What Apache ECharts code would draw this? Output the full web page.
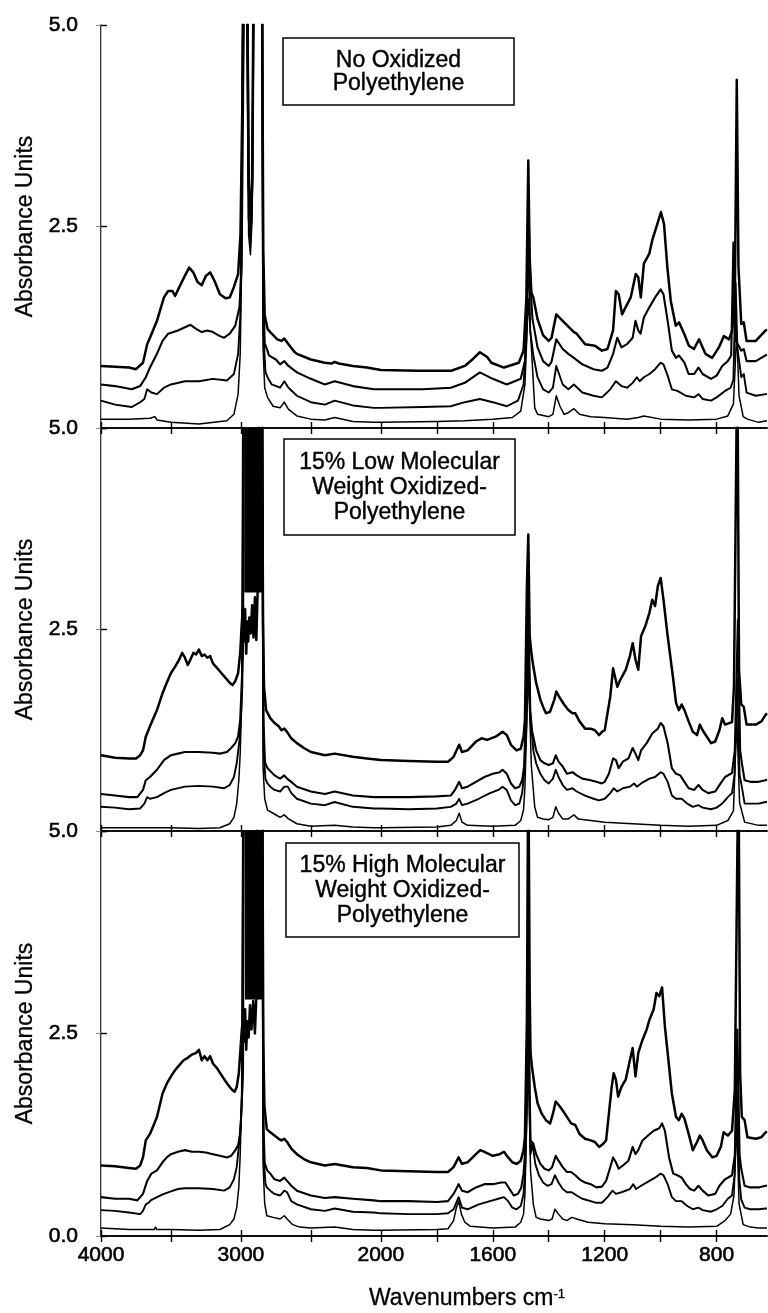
<!DOCTYPE html>
<html>
<head>
<meta charset="utf-8">
<script src="https://cdn.jsdelivr.net/npm/echarts/dist/echarts.min.js"></script>
<style>
html, body { margin: 0; padding: 0; background: #fff; }
#container { width: 768px; height: 1313px; }
</style>
</head>
<body>
<div id="container"></div>
<script>
var dom = document.getElementById("container");
var chart = echarts.init(dom);

// x axis: wavenumbers, expanded 2x below 2000 cm-1
const tickWavenumbers = [4000, 3500, 3000, 2500, 2000, 1800, 1600, 1400, 1200, 1000, 800];
const labelWavenumbers = [4000, 3000, 2000, 1600, 1200, 800];
const xStart = 4000;
const xBreak = 2000;
const xEnd = 620;

const panelTitles = [
    "No Oxidized\nPolyethylene",
    "15% Low Molecular\nWeight Oxidized-\nPolyethylene",
    "15% High Molecular\nWeight Oxidized-\nPolyethylene",
];

// saturated C-H band [from, to, lower absorbance]
const lowSat = [2976, 2847, 2.96];
const highSat = [2971, 2840, 2.92];

// ---- No oxidized polyethylene ----
const noOxA = [[4000,0.77],[3900,0.76],[3800,0.75],[3750,0.73],[3700,0.81],[3670,1.04],[3650,1.12],[3600,1.33],[3550,1.62],[3520,1.70],[3490,1.70],[3470,1.64],[3440,1.75],[3400,1.89],[3370,1.99],[3340,1.93],[3310,1.81],[3280,1.77],[3250,1.89],[3220,1.93],[3190,1.83],[3150,1.66],[3110,1.61],[3080,1.62],[3050,1.75],[3020,1.91],[3003,2.41],[2990,4.0],[2978,6],[2958,6],[2945,3.0],[2932,2.7],[2920,3.1],[2908,6],[2850,6],[2840,2.2],[2830,1.4],[2810,1.23],[2780,1.17],[2740,1.10],[2710,1.08],[2690,1.11],[2660,1.04],[2620,0.95],[2600,0.92],[2500,0.85],[2400,0.81],[2350,0.80],[2330,0.82],[2300,0.80],[2200,0.77],[2100,0.75],[2000,0.72],
    [1867,0.71],[1748,0.71],[1700,0.77],[1670,0.86],[1646,0.94],[1620,0.88],[1605,0.81],[1560,0.75],[1507,0.81],[1490,0.96],[1480,1.6],[1473,3.32],[1468,2.1],[1462,1.68],[1455,1.62],[1440,1.35],[1420,1.15],[1400,1.08],[1390,1.12],[1373,1.41],[1345,1.31],[1310,1.19],[1300,1.17],[1270,1.04],[1235,1.02],[1210,0.96],[1190,0.98],[1170,1.21],[1160,1.70],[1150,1.66],[1138,1.41],[1125,1.50],[1107,1.62],[1089,1.91],[1080,1.87],[1071,1.62],[1060,2.04],[1041,2.16],[1030,2.33],[1012,2.53],[999,2.68],[988,2.53],[976,1.99],[964,1.58],[946,1.27],[934,1.31],[916,1.17],[899,1.02],[881,0.98],[863,1.10],[840,0.92],[816,0.87],[792,1.0],[774,1.14],[756,1.10],[745,1.2],[735,1.6],[728,4.32],[722,2.0],[712,1.29],[703,1.31],[693,1.08],[660,1.08],[625,1.21],[620,1.22]];
const noOxB = [[4000,0.54],[3900,0.52],[3780,0.48],[3720,0.52],[3680,0.63],[3650,0.75],[3600,0.92],[3560,1.08],[3520,1.17],[3450,1.21],[3400,1.25],[3360,1.28],[3320,1.23],[3280,1.19],[3240,1.21],[3200,1.19],[3150,1.14],[3120,1.12],[3080,1.17],[3040,1.27],[3010,1.50],[2995,2.0],[2985,4],[2975,6],[2955,6],[2942,2.9],[2930,2.5],[2918,3.0],[2905,6],[2850,6],[2842,1.8],[2830,1.05],[2810,0.96],[2800,0.90],[2750,0.85],[2720,0.79],[2690,0.83],[2660,0.77],[2600,0.69],[2500,0.61],[2400,0.54],[2330,0.58],[2200,0.52],[2050,0.48],[2000,0.48],
    [1850,0.48],[1750,0.50],[1700,0.56],[1646,0.69],[1600,0.61],[1550,0.54],[1500,0.61],[1485,0.83],[1478,1.5],[1473,2.82],[1466,1.8],[1458,1.35],[1440,1.0],[1420,0.83],[1400,0.77],[1390,0.82],[1373,1.10],[1350,0.98],[1330,0.92],[1310,0.87],[1280,0.79],[1240,0.73],[1210,0.71],[1190,0.75],[1170,0.92],[1155,1.12],[1140,1.0],[1120,1.04],[1100,1.12],[1090,1.33],[1080,1.21],[1072,1.17],[1060,1.37],[1040,1.50],[1020,1.62],[1000,1.72],[990,1.66],[975,1.33],[960,0.96],[945,0.87],[935,0.90],[915,0.81],[900,0.67],[880,0.67],[865,0.75],[850,0.67],[820,0.61],[800,0.65],[780,0.77],[760,0.83],[748,0.9],[740,2.3],[734,1.1],[712,0.96],[703,0.98],[693,0.83],[660,0.83],[625,0.90],[620,0.91]];
const noOxC = [[4000,0.34],[3900,0.29],[3780,0.26],[3720,0.32],[3690,0.36],[3670,0.48],[3640,0.44],[3600,0.42],[3550,0.50],[3500,0.54],[3400,0.58],[3300,0.58],[3200,0.61],[3100,0.59],[3050,0.67],[3020,0.92],[3005,1.37],[2995,2.6],[2985,6],[2958,6],[2945,2.6],[2932,2.3],[2920,2.8],[2908,6],[2848,6],[2840,1.2],[2825,0.7],[2810,0.63],[2780,0.54],[2720,0.50],[2690,0.58],[2660,0.50],[2600,0.40],[2500,0.32],[2400,0.29],[2330,0.34],[2200,0.28],[2050,0.25],[2000,0.25],
    [1850,0.26],[1750,0.27],[1700,0.32],[1646,0.36],[1600,0.32],[1550,0.27],[1510,0.34],[1490,0.54],[1480,1.1],[1473,2.33],[1466,1.2],[1455,0.9],[1440,0.63],[1420,0.48],[1400,0.44],[1385,0.5],[1373,0.77],[1350,0.54],[1330,0.48],[1310,0.54],[1280,0.44],[1240,0.40],[1210,0.38],[1180,0.48],[1160,0.58],[1140,0.52],[1120,0.50],[1100,0.56],[1085,0.63],[1075,0.58],[1060,0.63],[1040,0.67],[1020,0.73],[1000,0.81],[990,0.79],[975,0.65],[960,0.48],[940,0.46],[910,0.40],[880,0.38],[865,0.42],[850,0.36],[820,0.34],[800,0.38],[770,0.46],[750,0.50],[740,0.6],[732,1.8],[726,1.0],[712,0.63],[703,0.67],[693,0.44],[660,0.40],[625,0.42],[620,0.42]];
const noOxD = [[4000,0.11],[3800,0.11],[3650,0.12],[3615,0.14],[3600,0.10],[3500,0.07],[3300,0.05],[3100,0.09],[3050,0.17],[3020,0.42],[3005,0.92],[2995,2.0],[2985,6],[2960,6],[2945,2.4],[2932,2.15],[2920,2.6],[2908,6],[2852,6],[2842,1.0],[2830,0.5],[2810,0.38],[2770,0.27],[2720,0.25],[2690,0.32],[2660,0.23],[2600,0.15],[2500,0.11],[2400,0.10],[2330,0.13],[2200,0.08],[2050,0.07],[2000,0.07],
    [1800,0.08],[1700,0.09],[1600,0.11],[1530,0.13],[1500,0.21],[1485,0.54],[1473,1.6],[1462,1.0],[1450,0.25],[1440,0.17],[1400,0.14],[1385,0.17],[1373,0.40],[1360,0.27],[1345,0.17],[1330,0.19],[1310,0.24],[1290,0.17],[1250,0.14],[1200,0.13],[1120,0.11],[1080,0.13],[1060,0.15],[1000,0.11],[900,0.10],[800,0.11],[760,0.15],[740,0.3],[728,1.2],[720,0.4],[705,0.14],[690,0.11],[650,0.07],[620,0.09]];

// ---- 15% low molecular weight oxidized PE ----
const lowA = [[4000,0.94],[3900,0.91],[3800,0.90],[3750,0.90],[3720,0.94],[3700,1.0],[3680,1.17],[3650,1.30],[3600,1.50],[3560,1.71],[3530,1.84],[3500,1.96],[3470,2.04],[3440,2.13],[3420,2.21],[3400,2.15],[3380,2.06],[3360,2.13],[3340,2.21],[3320,2.19],[3300,2.25],[3280,2.17],[3260,2.19],[3240,2.15],[3220,2.17],[3200,2.08],[3170,2.02],[3140,1.96],[3110,1.90],[3080,1.84],[3060,1.81],[3040,1.86],[3020,1.96],[3005,2.21],[2995,2.54],[2985,2.79],[2978,2.35],[2970,2.75],[2962,2.2],[2955,2.6],[2948,2.35],[2940,2.65],[2930,2.45],[2920,2.8],[2910,2.4],[2900,2.9],[2890,2.37],[2880,3.0],[2870,6],[2850,6],[2842,2.6],[2835,1.79],[2820,1.5],[2790,1.40],[2760,1.34],[2730,1.30],[2710,1.25],[2690,1.27],[2670,1.23],[2640,1.15],[2600,1.09],[2550,1.03],[2500,0.98],[2400,0.94],[2330,0.96],[2200,0.92],[2100,0.90],[2000,0.88],
    [1900,0.87],[1800,0.86],[1760,0.86],[1740,0.92],[1720,1.07],[1710,0.98],[1690,1.0],[1660,1.11],[1640,1.15],[1620,1.13],[1590,1.17],[1565,1.23],[1550,1.19],[1535,1.07],[1515,1.0],[1500,1.02],[1490,1.17],[1485,1.38],[1478,3.04],[1473,3.68],[1468,2.42],[1462,2.21],[1455,2.04],[1445,1.84],[1430,1.63],[1420,1.54],[1410,1.46],[1395,1.48],[1380,1.63],[1373,1.73],[1360,1.65],[1345,1.57],[1330,1.50],[1315,1.46],[1305,1.46],[1290,1.36],[1270,1.27],[1250,1.27],[1235,1.25],[1220,1.19],[1210,1.23],[1200,1.25],[1180,1.67],[1170,2.02],[1163,2.04],[1155,1.79],[1145,1.87],[1125,2.0],[1110,2.17],[1100,2.33],[1090,2.13],[1080,2.0],[1070,2.42],[1055,2.54],[1040,2.71],[1030,2.87],[1020,2.79],[1010,3.04],[1000,3.14],[990,2.87],[975,2.42],[955,1.88],[945,1.59],[935,1.50],[925,1.57],[915,1.50],[900,1.36],[885,1.23],[870,1.19],[860,1.32],[850,1.25],[835,1.17],[820,1.09],[805,1.11],[790,1.25],[780,1.40],[770,1.32],[745,1.35],[738,1.8],[726,6],[720,2.0],[712,1.57],[703,1.54],[693,1.32],[660,1.32],[640,1.36],[625,1.44],[620,1.46]];
const lowB = [[4000,0.46],[3900,0.44],[3800,0.42],[3740,0.42],[3700,0.51],[3680,0.63],[3650,0.67],[3600,0.76],[3550,0.88],[3500,0.94],[3450,0.96],[3400,0.98],[3300,0.98],[3200,0.97],[3150,0.96],[3100,0.98],[3070,1.03],[3040,1.09],[3020,1.17],[3005,1.38],[2995,1.79],[2985,2.21],[2978,6],[2850,6],[2840,1.4],[2828,0.85],[2810,0.78],[2800,0.76],[2760,0.69],[2720,0.65],[2690,0.69],[2670,0.65],[2640,0.61],[2600,0.55],[2500,0.49],[2400,0.46],[2330,0.49],[2200,0.44],[2050,0.42],[2000,0.42],
    [1900,0.42],[1800,0.43],[1750,0.44],[1735,0.51],[1720,0.61],[1710,0.53],[1690,0.55],[1660,0.61],[1630,0.67],[1600,0.71],[1575,0.73],[1565,0.76],[1550,0.71],[1535,0.59],[1520,0.53],[1505,0.55],[1495,0.63],[1488,0.80],[1480,1.6],[1473,2.9],[1466,1.5],[1460,1.25],[1455,1.17],[1445,1.0],[1430,0.88],[1415,0.84],[1400,0.82],[1385,0.84],[1375,0.94],[1365,0.86],[1350,0.80],[1335,0.71],[1315,0.73],[1300,0.69],[1280,0.65],[1250,0.63],[1230,0.61],[1210,0.59],[1200,0.61],[1185,0.71],[1170,0.90],[1160,0.88],[1150,0.78],[1135,0.86],[1115,0.90],[1100,1.03],[1090,0.96],[1080,0.88],[1070,1.0],[1050,1.09],[1030,1.21],[1010,1.27],[1000,1.34],[990,1.30],[975,1.09],[960,0.78],[945,0.71],[930,0.69],[915,0.61],[900,0.53],[880,0.51],[865,0.57],[850,0.51],[830,0.47],[805,0.49],[790,0.57],[770,0.67],[745,0.72],[735,1.0],[724,2.62],[716,1.0],[708,0.80],[700,0.63],[680,0.61],[650,0.61],[625,0.63],[620,0.64]];
const lowC = [[4000,0.30],[3900,0.29],[3800,0.27],[3720,0.28],[3690,0.34],[3670,0.42],[3650,0.40],[3600,0.42],[3550,0.47],[3500,0.51],[3400,0.55],[3300,0.56],[3200,0.55],[3120,0.53],[3080,0.57],[3050,0.67],[3030,0.84],[3010,1.13],[3000,1.38],[2990,1.79],[2980,6],[2848,6],[2838,1.0],[2825,0.65],[2810,0.59],[2790,0.55],[2760,0.51],[2720,0.49],[2690,0.55],[2665,0.55],[2640,0.47],[2600,0.40],[2500,0.34],[2400,0.32],[2330,0.36],[2200,0.30],[2050,0.28],[2000,0.28],
    [1900,0.27],[1800,0.28],[1750,0.30],[1730,0.34],[1720,0.40],[1710,0.32],[1690,0.34],[1650,0.40],[1610,0.47],[1580,0.51],[1565,0.55],[1550,0.51],[1535,0.38],[1520,0.32],[1505,0.34],[1495,0.47],[1488,0.71],[1480,1.3],[1473,2.4],[1466,1.4],[1460,1.2],[1455,1.0],[1445,0.84],[1430,0.71],[1415,0.63],[1400,0.59],[1385,0.65],[1375,0.76],[1365,0.67],[1350,0.57],[1335,0.51],[1315,0.53],[1300,0.49],[1270,0.44],[1240,0.40],[1220,0.38],[1200,0.40],[1180,0.47],[1168,0.53],[1155,0.49],[1135,0.53],[1110,0.55],[1095,0.59],[1085,0.55],[1070,0.59],[1040,0.65],[1020,0.67],[1000,0.73],[990,0.71],[975,0.61],[960,0.44],[945,0.40],[925,0.40],[905,0.34],[885,0.30],[865,0.32],[850,0.29],[820,0.27],[800,0.29],[780,0.34],[760,0.42],[745,0.47],[736,0.7],[726,1.9],[718,0.7],[710,0.55],[700,0.34],[680,0.34],[650,0.34],[625,0.36],[620,0.36]];
const lowD = [[4000,0.04],[3800,0.04],[3620,0.04],[3610,0.06],[3600,0.04],[3500,0.04],[3300,0.03],[3150,0.04],[3080,0.09],[3050,0.17],[3030,0.34],[3015,0.63],[3005,0.96],[2995,1.59],[2985,6],[2850,6],[2842,0.8],[2830,0.4],[2810,0.26],[2770,0.22],[2720,0.17],[2690,0.20],[2660,0.15],[2600,0.09],[2500,0.06],[2330,0.07],[2200,0.05],[2050,0.04],[2000,0.04],
    [1800,0.05],[1750,0.07],[1730,0.13],[1720,0.22],[1710,0.11],[1690,0.07],[1600,0.06],[1520,0.07],[1500,0.13],[1490,0.26],[1485,0.55],[1473,2.0],[1462,0.8],[1450,0.30],[1440,0.17],[1420,0.15],[1400,0.14],[1385,0.17],[1375,0.30],[1365,0.22],[1350,0.15],[1330,0.15],[1310,0.20],[1295,0.15],[1250,0.13],[1200,0.11],[1100,0.09],[1000,0.07],[900,0.06],[800,0.07],[760,0.13],[740,0.25],[728,1.4],[718,0.35],[700,0.11],[650,0.07],[620,0.07]];

// ---- 15% high molecular weight oxidized PE ----
const highA = [[4000,0.87],[3900,0.86],[3800,0.84],[3750,0.83],[3720,0.87],[3700,0.97],[3680,1.18],[3650,1.26],[3600,1.47],[3560,1.76],[3530,1.88],[3500,1.97],[3470,2.05],[3440,2.11],[3410,2.17],[3380,2.20],[3350,2.24],[3320,2.26],[3300,2.30],[3280,2.17],[3260,2.22],[3240,2.17],[3220,2.22],[3200,2.13],[3170,2.07],[3140,1.99],[3110,1.91],[3080,1.84],[3060,1.80],[3045,1.78],[3030,1.84],[3015,2.01],[3005,2.26],[2995,2.51],[2985,2.71],[2978,2.4],[2970,2.8],[2962,2.3],[2955,2.65],[2945,2.45],[2935,2.85],[2925,2.55],[2912,2.9],[2900,2.5],[2890,2.95],[2880,6],[2848,6],[2840,2.4],[2832,1.6],[2815,1.32],[2790,1.28],[2760,1.24],[2730,1.20],[2710,1.18],[2690,1.20],[2670,1.16],[2640,1.08],[2600,1.01],[2550,0.95],[2500,0.91],[2400,0.87],[2330,0.89],[2200,0.85],[2100,0.84],[2000,0.81],
    [1900,0.80],[1800,0.79],[1760,0.79],[1740,0.85],[1722,0.97],[1710,0.89],[1690,0.91],[1660,1.01],[1645,1.06],[1630,1.04],[1600,0.99],[1575,1.01],[1560,1.04],[1545,0.97],[1530,0.91],[1515,0.89],[1500,0.93],[1490,1.06],[1485,1.22],[1478,2.67],[1473,6],[1468,3.0],[1465,2.26],[1460,2.09],[1450,1.84],[1440,1.64],[1425,1.51],[1410,1.43],[1395,1.39],[1385,1.51],[1375,1.66],[1365,1.62],[1350,1.55],[1335,1.47],[1320,1.39],[1305,1.37],[1290,1.26],[1270,1.20],[1250,1.18],[1235,1.16],[1220,1.10],[1205,1.14],[1195,1.18],[1185,1.51],[1175,1.84],[1168,2.01],[1160,1.93],[1152,1.72],[1140,1.84],[1125,1.93],[1110,2.17],[1100,2.32],[1090,1.97],[1080,2.26],[1065,2.42],[1050,2.55],[1040,2.67],[1025,2.80],[1015,3.0],[1005,2.96],[995,3.07],[985,2.59],[975,2.26],[960,1.76],[945,1.47],[935,1.43],[925,1.51],[915,1.45],[900,1.26],[885,1.06],[870,1.16],[860,1.24],[850,1.18],[835,1.06],[815,0.97],[800,0.99],[785,1.10],[775,1.28],[760,1.24],[745,1.3],[735,1.8],[722,6],[716,2.0],[710,1.47],[700,1.43],[690,1.22],[660,1.20],[640,1.22],[625,1.28],[620,1.29]];
const highB = [[4000,0.48],[3900,0.46],[3800,0.46],[3740,0.44],[3700,0.52],[3670,0.68],[3640,0.77],[3600,0.81],[3560,0.91],[3530,0.97],[3500,1.01],[3450,1.04],[3400,1.06],[3350,1.04],[3300,1.04],[3250,1.03],[3200,1.01],[3150,0.99],[3100,0.97],[3070,0.99],[3040,1.06],[3020,1.12],[3005,1.26],[2995,1.59],[2985,2.05],[2978,6],[2848,6],[2840,1.4],[2830,0.9],[2812,0.81],[2790,0.77],[2760,0.70],[2720,0.68],[2690,0.72],[2670,0.68],[2640,0.62],[2600,0.56],[2500,0.50],[2400,0.47],[2330,0.48],[2200,0.46],[2050,0.44],[2000,0.43],
    [1900,0.43],[1800,0.42],[1760,0.43],[1740,0.52],[1722,0.64],[1710,0.56],[1690,0.54],[1660,0.60],[1630,0.64],[1600,0.64],[1570,0.66],[1555,0.66],[1540,0.58],[1525,0.50],[1510,0.52],[1498,0.60],[1490,0.77],[1485,1.01],[1478,2.0],[1473,3.3],[1468,1.8],[1465,1.18],[1455,1.14],[1445,1.01],[1430,0.89],[1415,0.83],[1400,0.81],[1388,0.85],[1375,0.99],[1365,0.93],[1350,0.85],[1335,0.79],[1320,0.79],[1305,0.75],[1290,0.70],[1270,0.66],[1250,0.64],[1230,0.60],[1210,0.61],[1195,0.68],[1180,0.85],[1170,0.97],[1160,0.91],[1150,0.83],[1135,0.87],[1115,0.93],[1100,1.10],[1090,1.01],[1080,1.06],[1065,1.18],[1045,1.24],[1025,1.30],[1005,1.33],[995,1.39],[985,1.30],[970,0.97],[955,0.77],[940,0.75],[925,0.72],[910,0.64],[895,0.58],[880,0.56],[865,0.62],[850,0.56],[830,0.50],[805,0.52],[790,0.62],[770,0.70],[745,0.75],[735,1.0],[726,2.55],[718,1.0],[712,0.83],[700,0.62],[680,0.60],[650,0.60],[625,0.62],[620,0.62]];
const highC = [[4000,0.32],[3900,0.31],[3800,0.29],[3720,0.27],[3700,0.31],[3680,0.39],[3660,0.41],[3645,0.44],[3600,0.48],[3550,0.52],[3500,0.55],[3450,0.58],[3400,0.59],[3300,0.59],[3200,0.58],[3120,0.56],[3080,0.60],[3050,0.70],[3030,0.85],[3015,1.10],[3000,1.43],[2990,1.88],[2982,6],[2848,6],[2838,1.0],[2825,0.65],[2815,0.60],[2790,0.56],[2760,0.52],[2720,0.50],[2690,0.56],[2670,0.54],[2640,0.43],[2600,0.39],[2500,0.33],[2400,0.31],[2330,0.34],[2200,0.30],[2050,0.29],[2000,0.28],
    [1900,0.27],[1800,0.27],[1760,0.28],[1740,0.33],[1722,0.48],[1710,0.35],[1690,0.33],[1650,0.39],[1610,0.43],[1580,0.46],[1560,0.48],[1545,0.43],[1530,0.35],[1515,0.33],[1500,0.37],[1490,0.52],[1485,0.77],[1478,1.6],[1473,2.7],[1468,1.5],[1465,1.01],[1458,1.14],[1448,0.89],[1435,0.75],[1420,0.66],[1405,0.62],[1390,0.64],[1378,0.75],[1365,0.66],[1350,0.58],[1335,0.54],[1318,0.54],[1300,0.50],[1280,0.46],[1250,0.43],[1230,0.41],[1210,0.41],[1190,0.48],[1172,0.56],[1160,0.52],[1140,0.54],[1110,0.58],[1098,0.64],[1088,0.58],[1070,0.62],[1040,0.68],[1020,0.72],[1000,0.77],[990,0.75],[975,0.64],[960,0.48],[945,0.43],[925,0.43],[905,0.37],[885,0.33],[865,0.35],[850,0.32],[820,0.30],[800,0.33],[780,0.37],[760,0.46],[745,0.5],[736,0.75],[727,1.8],[719,0.7],[712,0.45],[700,0.35],[680,0.33],[650,0.33],[625,0.34],[620,0.34]];
const highD = [[4000,0.10],[3800,0.08],[3620,0.08],[3610,0.11],[3600,0.08],[3500,0.08],[3300,0.07],[3150,0.08],[3080,0.14],[3050,0.21],[3030,0.35],[3015,0.60],[3005,1.01],[2995,1.64],[2985,6],[2850,6],[2842,0.9],[2830,0.4],[2815,0.25],[2770,0.23],[2720,0.21],[2690,0.25],[2670,0.21],[2630,0.14],[2580,0.11],[2500,0.10],[2330,0.11],[2200,0.08],[2050,0.07],[2000,0.07],
    [1800,0.08],[1760,0.09],[1740,0.19],[1730,0.35],[1722,0.43],[1712,0.27],[1700,0.17],[1680,0.12],[1600,0.10],[1520,0.11],[1500,0.17],[1490,0.27],[1485,0.52],[1473,2.2],[1465,0.8],[1455,0.39],[1445,0.23],[1430,0.21],[1400,0.19],[1388,0.21],[1378,0.33],[1365,0.27],[1350,0.21],[1335,0.19],[1318,0.23],[1300,0.21],[1260,0.17],[1200,0.15],[1100,0.14],[1000,0.12],[900,0.11],[800,0.12],[770,0.19],[750,0.27],[738,0.5],[728,1.4],[720,0.4],[705,0.14],[680,0.11],[650,0.10],[620,0.10]];

const panelCurves = [
    [noOxA, noOxB, noOxC, noOxD],
    [lowA, lowB, lowC, lowD],
    [highA, highB, highC, highD],
];
const panelSat = [null, lowSat, highSat];

// wavenumber -> axis position (2x expansion below the break)
function toAxis(w) {
    return w >= xBreak ? xStart - w : (xStart - xBreak) + 2 * (xBreak - w);
}
function fromAxis(u) {
    return u <= xStart - xBreak ? xStart - u : xBreak - (u - (xStart - xBreak)) / 2;
}

const fontFamily = "'Liberation Sans', Arial, Helvetica, sans-serif";
const tops = [25, 428, 831];
const heights = [403, 403, 405];
const lineWidths = [2.5, 2.1, 1.9, 1.5];
// a thin outline makes the glyphs as heavy as the scanned print
const heavy = { textBorderColor: "#000", textBorderWidth: 0.6 };

var grids = [], xAxes = [], yAxes = [], series = [];

for (let p = 0; p < 3; p++) {
    grids.push({ left: 101, right: 1, top: tops[p], height: heights[p] });

    const isLast = p === 2;
    ["bottom", "top"].forEach(function (pos) {
        const bottomAxis = pos === "bottom";
        xAxes.push({
            gridIndex: p,
            type: "value",
            position: pos,
            min: 0,
            max: toAxis(xEnd),
            splitLine: { show: false },
            axisLine: { lineStyle: { color: "#000", width: 1.6 } },
            axisTick: {
                show: true,
                inside: true,
                length: 6,
                customValues: tickWavenumbers.map(toAxis),
                lineStyle: { color: "#000", width: 1.4 },
            },
            axisLabel: Object.assign({
                show: isLast && bottomAxis,
                customValues: labelWavenumbers.map(toAxis),
                formatter: function (u) {
                    return Math.round(fromAxis(u)) + "";
                },
                margin: 9,
                color: "#000",
                fontSize: 21,
                fontFamily: fontFamily,
            }, heavy),
        });
    });

    yAxes.push({
        gridIndex: p,
        type: "value",
        position: "left",
        min: 0,
        max: 5,
        interval: 2.5,
        splitLine: { show: false },
        axisLine: { show: true, lineStyle: { color: "#000", width: 1.6 } },
        axisTick: { show: true, inside: true, length: 6, lineStyle: { color: "#000", width: 1.4 } },
        axisLabel: Object.assign({
            formatter: function (v) {
                if (v === 0 && !isLast) return "";
                return v.toFixed(1);
            },
            margin: 23,
            color: "#000",
            fontSize: 21,
            fontFamily: fontFamily,
        }, heavy),
        name: "Absorbance Units",
        nameLocation: "middle",
        nameGap: 64,
        nameTextStyle: Object.assign({ color: "#000", fontSize: 23, fontFamily: fontFamily }, { textBorderColor: "#000", textBorderWidth: 0.3 }),
    });
    yAxes.push({
        gridIndex: p,
        type: "value",
        position: "right",
        min: 0,
        max: 5,
        interval: 2.5,
        splitLine: { show: false },
        axisLine: { show: true, lineStyle: { color: "#bbb", width: 1 } },
        axisTick: { show: true, inside: true, length: 5, lineStyle: { color: "#888" } },
        axisLabel: { show: false },
    });

    panelCurves[p].forEach(function (curve, k) {
        const s = {
            type: "line",
            xAxisIndex: 2 * p,
            yAxisIndex: 2 * p,
            data: curve.map(function (d) { return [toAxis(d[0]), d[1]]; }),
            showSymbol: false,
            symbol: "none",
            clip: true,
            lineStyle: { color: "#000", width: lineWidths[k], join: "round" },
            silent: true,
            z: 3,
        };
        const sat = panelSat[p];
        if (k === 0 && sat) {
            s.markArea = {
                silent: true,
                itemStyle: { color: "#000" },
                data: [[
                    { xAxis: toAxis(sat[0]), yAxis: sat[2] },
                    { xAxis: toAxis(sat[1]), yAxis: 5 },
                ]],
            };
        }
        series.push(s);
    });
}

// legend boxes
const boxes = [
    { x: 283, y: 38, w: 231, h: 67, lh: 23 },
    { x: 284, y: 439, w: 231, h: 96, lh: 25 },
    { x: 286, y: 843, w: 233, h: 94, lh: 25 },
];
var graphics = [];
boxes.forEach(function (b, i) {
    graphics.push({
        type: "rect",
        shape: { x: b.x, y: b.y, width: b.w, height: b.h },
        style: { fill: "#fff", stroke: "#000", lineWidth: 1.5 },
        z: 10,
    });
    graphics.push({
        type: "text",
        x: b.x + b.w / 2,
        y: b.y + b.h / 2 + 1,
        style: {
            text: panelTitles[i],
            align: "center",
            verticalAlign: "middle",
            fill: "#000",
            font: "23px " + fontFamily,
            lineHeight: b.lh,
            stroke: "#000",
            lineWidth: 0.4,
        },
        z: 11,
    });
});
// x axis title (sits right of the plot centre in the original)
graphics.push({
    type: "text",
    x: 467,
    y: 1299,
    style: {
        text: "Wavenumbers cm{s|-1}",
        align: "center",
        verticalAlign: "middle",
        fill: "#000",
        font: "23px " + fontFamily,
        stroke: "#000",
        lineWidth: 0.3,
        rich: { s: { fontSize: 13, verticalAlign: "top", fill: "#000", fontFamily: fontFamily } },
    },
});

var option = {
    backgroundColor: "#fff",
    animation: false,
    grid: grids,
    xAxis: xAxes,
    yAxis: yAxes,
    series: series,
    graphic: { elements: graphics },
};

chart.setOption(option);
</script>
</body>
</html>
